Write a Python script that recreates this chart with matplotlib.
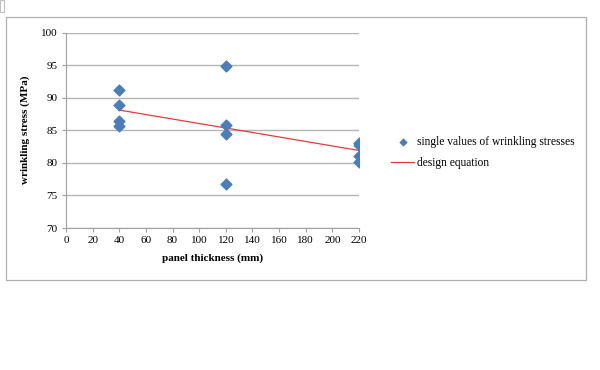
import matplotlib.pyplot as plt
from matplotlib.patches import Rectangle

# data
thickness = [40, 40, 40, 40, 120, 120, 120, 120, 220, 220, 220, 220]
stress = [91.2, 88.8, 86.4, 85.6, 94.9, 85.8, 84.4, 76.8, 83.1, 82.7, 81.1, 80.2]
design_x = [40, 220]
design_y = [88.1, 81.9]
xticks = list(range(0, 221, 20))
yticks = list(range(70, 101, 5))

plt.rcParams['font.family'] = ['Liberation Serif', 'DejaVu Serif']

fig = plt.figure(figsize=(6, 3.7), dpi=100)
# outer chart border
fig.patches.append(Rectangle((6 / 600, 1 - 280 / 370), 580 / 600, 263 / 370,
                             transform=fig.transFigure, fill=False,
                             edgecolor='#b0b0b0', linewidth=0.9))
fig.patches.append(Rectangle((0, 1 - 12 / 370), 4 / 600, 12 / 370,
                             transform=fig.transFigure, fill=False,
                             edgecolor='#c0c0c0', linewidth=0.8))

ax = fig.add_axes([66 / 600, 1 - 228 / 370, 293 / 600, 195.5 / 370])
ax.scatter(thickness, stress, marker='D', s=30, color='#4a7ebb',
           label='single values of wrinkling stresses', zorder=3)
ax.plot(design_x, design_y, color='#e03c3c', linewidth=0.9,
        label='design equation', zorder=2)

ax.set_xlim(0, 220)
ax.set_ylim(70, 100)
ax.set_xticks(xticks)
ax.set_yticks(yticks)
ax.grid(axis='y', color='#b5b5b5', linewidth=1.0)
ax.set_axisbelow(True)
for s in ['top', 'right']:
    ax.spines[s].set_visible(False)
for s in ['left', 'bottom']:
    ax.spines[s].set_color('#a0a0a0')
ax.tick_params(axis='both', direction='out', length=3, color='#a0a0a0',
               labelsize=8, pad=3)

ax.set_xlabel('panel thickness (mm)', fontsize=8, fontweight='bold', labelpad=6)
ax.set_ylabel('wrinkling stress (MPa)', fontsize=8, fontweight='bold', labelpad=8)

fig.legend(loc='upper left', bbox_to_anchor=(381 / 600, 1 - 126 / 370),
           frameon=False, fontsize=8.3, handlelength=2.0, handletextpad=0.2,
           labelspacing=0.75, markerscale=0.6)

fig.savefig('out.png', dpi=100)
